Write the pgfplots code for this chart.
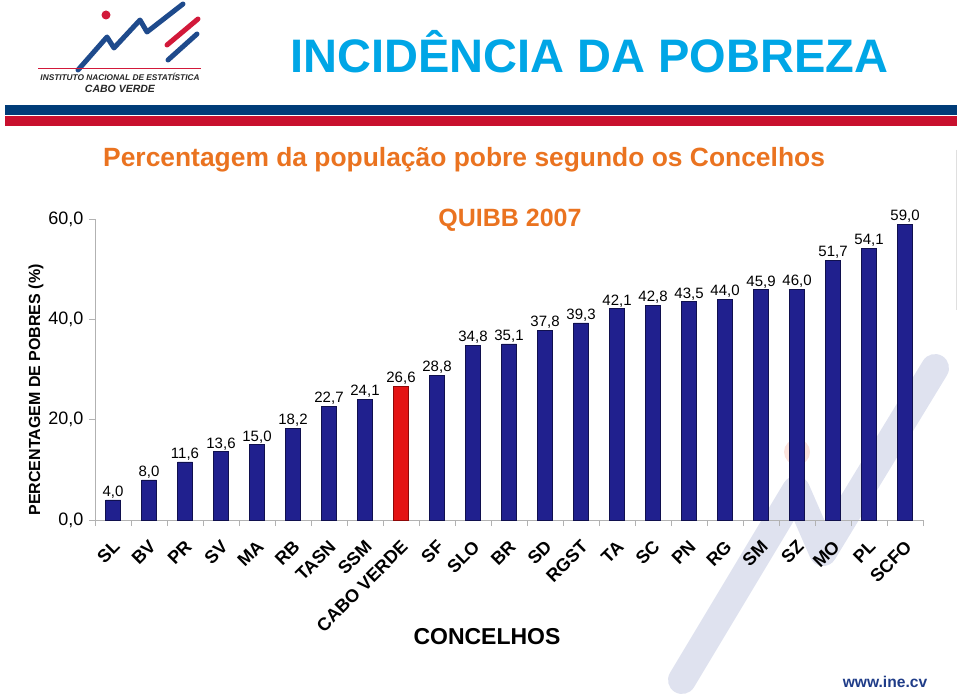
\documentclass[border=0pt]{standalone}
\usepackage{pgfplots}
\pgfplotsset{compat=1.18}
\usepackage{fontspec}
\setmainfont{Liberation Sans}
\definecolor{ttlblue}{HTML}{00A6E6}
\definecolor{stripeblue}{HTML}{003C78}
\definecolor{stripered}{HTML}{C8102E}
\definecolor{subor}{HTML}{EA7320}
\definecolor{wm}{HTML}{DFE2EF}
\definecolor{wmpink}{HTML}{FBE3DC}
\definecolor{navy}{HTML}{20208E}
\definecolor{navyd}{HTML}{10104E}
\definecolor{redf}{HTML}{E41414}
\definecolor{redd}{HTML}{8E0808}
\definecolor{logoblue}{HTML}{1E4A8C}
\definecolor{logored}{HTML}{D2193A}
\definecolor{webblue}{HTML}{1F3C88}
\begin{document}
\begin{tikzpicture}
\path[use as bounding box] (0,0) rectangle (960pt,696pt);
\begin{scope}[x=1pt,y=-1pt,shift={(0,696pt)}]
  % watermark
  \draw[wm, line width=28pt, line cap=round, line join=round] (682,680) -- (796,490) -- (823,552) -- (935,368);
  \fill[wmpink] (797,452) circle (13);
  % stripes
  \fill[stripeblue] (5,105) rectangle (957,115);
  \fill[stripered] (5,116.5) rectangle (957,126);
  \draw[gray!25, line width=0.8pt] (956,150) -- (956,310);
  % logo
  \draw[logoblue, line width=5pt, line cap=round, line join=round] (78,70) -- (107,37) -- (114,48) -- (140,20) -- (147,32) -- (183,4);
  \draw[logored, line width=5pt, line cap=round] (167,45) -- (198,19);
  \draw[logoblue, line width=5pt, line cap=round] (168,60) -- (197,34);
  \fill[logored] (106,15) circle (4.5);
  \draw[logored, line width=0.8pt] (38,68) -- (201,68);
  \node[font=\bfseries\itshape\fontsize{8.3}{10}\selectfont, black!85, inner sep=0pt] at (120,77) {INSTITUTO NACIONAL DE ESTATÍSTICA};
  \node[font=\bfseries\itshape\fontsize{10.5}{12}\selectfont, black!85, inner sep=0pt] at (120,89) {CABO VERDE};
  % titles
  \node[anchor=base west, inner sep=0pt, font=\bfseries\fontsize{47}{50}\selectfont, ttlblue] at (290,73) {INCIDÊNCIA DA POBREZA};
  \node[anchor=base west, inner sep=0pt, font=\bfseries\fontsize{26.4}{30}\selectfont, subor] at (103,167) {Percentagem da população pobre segundo os Concelhos};
  \node[anchor=base, inner sep=0pt, font=\bfseries\fontsize{25}{28}\selectfont, subor] at (510,227) {QUIBB 2007};
  \node[anchor=base, inner sep=0pt, font=\bfseries\fontsize{23}{26}\selectfont] at (487,644) {CONCELHOS};
  \node[rotate=90, inner sep=0pt, font=\bfseries\fontsize{16}{18}\selectfont] at (36,390) {PERCENTAGEM DE POBRES (\%)};
  \node[anchor=base, inner sep=0pt, font=\bfseries\fontsize{15.6}{18}\selectfont, webblue] at (885,687) {www.ine.cv};
\end{scope}
\begin{axis}[
  at={(95pt,176pt)}, anchor=south west,
  scale only axis, width=828pt, height=301pt,
  clip=false,
  xmin=-0.5, xmax=22.5, ymin=0, ymax=60,
  axis x line*=bottom, axis y line*=left,
  axis line style={gray!60, line width=0.8pt},
  xtick={0,...,22},
  xticklabels={SL,BV,PR,SV,MA,RB,TASN,SSM,CABO VERDE,SF,SLO,BR,SD,RGST,TA,SC,PN,RG,SM,SZ,MO,PL,SCFO},
  ytick={0,20,40,60},
  minor xtick={-0.5,0.5,...,22.5},
  minor ytick={0,20,40,60},
  major tick length=0pt, minor tick length=6pt, tick align=outside,
  tick style={gray!60, line width=0.8pt},
  xticklabel style={xshift=-1pt, yshift=-19pt, rotate=45, anchor=north east, inner sep=0pt, font=\bfseries\fontsize{18}{19}\selectfont},
  yticklabel style={xshift=-8pt, font=\fontsize{18}{20}\selectfont},
  /pgf/number format/use comma,
  /pgf/number format/fixed,
  /pgf/number format/fixed zerofill,
  /pgf/number format/precision=1,
  /pgf/number format/assume math mode=true,
  nodes near coords style={font=\fontsize{15}{16}\selectfont, black, inner sep=1.5pt},
]
\addplot[ybar, bar width=15pt, bar shift=0pt, draw=navyd, line width=0.6pt, fill=navy, nodes near coords]
  coordinates {(0,4.0) (1,8.0) (2,11.6) (3,13.6) (4,15.0) (5,18.2) (6,22.7) (7,24.1)
  (9,28.8) (10,34.8) (11,35.1) (12,37.8) (13,39.3) (14,42.1) (15,42.8) (16,43.5)
  (17,44.0) (18,45.9) (19,46.0) (20,51.7) (21,54.1) (22,59.0)};
\addplot[ybar, bar width=15pt, bar shift=0pt, draw=redd, line width=0.6pt, fill=redf, nodes near coords]
  coordinates {(8,26.6)};
\end{axis}
\end{tikzpicture}
\end{document}
